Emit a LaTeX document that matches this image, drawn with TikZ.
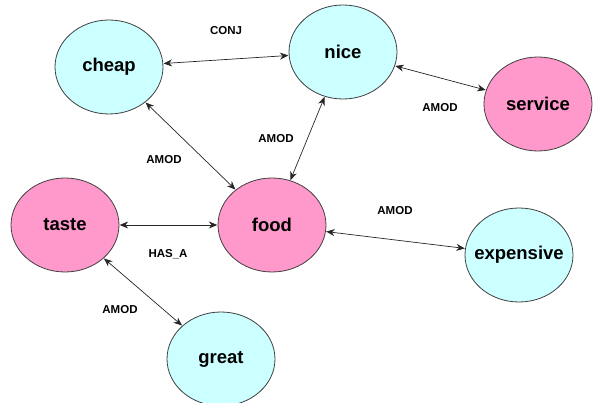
\documentclass[tikz,border=0pt]{standalone}
\usepackage{fontspec}
\setmainfont{Liberation Sans}
\usetikzlibrary{shapes.geometric,arrows.meta}
\definecolor{cyanfill}{HTML}{CCFFFF}
\definecolor{pinkfill}{HTML}{FF99CC}
\definecolor{rim}{HTML}{404040}
\newcommand{\wordtext}[1]{\makebox[0pt]{#1}}
\tikzset{
  word/.style={ellipse, draw=rim, line width=0.8pt, minimum width=108pt, minimum height=94pt, inner sep=0pt, font=\fontsize{18.5}{20}\selectfont\bfseries},
  adj/.style={word, fill=cyanfill},
  noun/.style={word, fill=pinkfill},
  rel/.style={font=\fontsize{11.5}{13}\selectfont\bfseries},
  edge/.style={draw=black!85, line width=0.7pt, {Stealth[length=8.5pt,width=7pt]}-{Stealth[length=8.5pt,width=7pt]}, shorten <=0.3pt, shorten >=0.3pt}
}
\begin{document}
\begin{tikzpicture}[x=1pt,y=-1pt]
\useasboundingbox (0,0) rectangle (595,403);
\node[adj]  (cheap)     at (109,67)  {\wordtext{cheap}};
\node[adj]  (nice)      at (343,52)  {\wordtext{nice}};
\node[noun] (service)   at (538,104) {\wordtext{service}};
\node[noun] (taste)     at (65,225)  {\wordtext{taste}};
\node[noun] (food)      at (272,225) {\wordtext{food}};
\node[adj]  (expensive) at (519,255) {\wordtext{expensive}};
\node[adj]  (great)     at (221,359) {\wordtext{great}};

\draw[edge] (cheap) -- (nice);
\draw[edge] (cheap) -- (food);
\draw[edge] (nice) -- (food);
\draw[edge] (nice) -- (service);
\draw[edge] (taste) -- (food);
\draw[edge] (food) -- (expensive);
\draw[edge] (taste) -- (great);

\node[rel] (l1) at (226,31)  {CONJ};
\node[rel] (l2) at (164,160) {AMOD};
\node[rel] (l3) at (276,139) {AMOD};
\node[rel] (l4) at (440,108) {AMOD};
\node[rel] (l5) at (395,211) {AMOD};
\node[rel] (l6) at (168,254) {HAS\_A};
\node[rel] (l7) at (120,310) {AMOD};
\end{tikzpicture}
\end{document}
